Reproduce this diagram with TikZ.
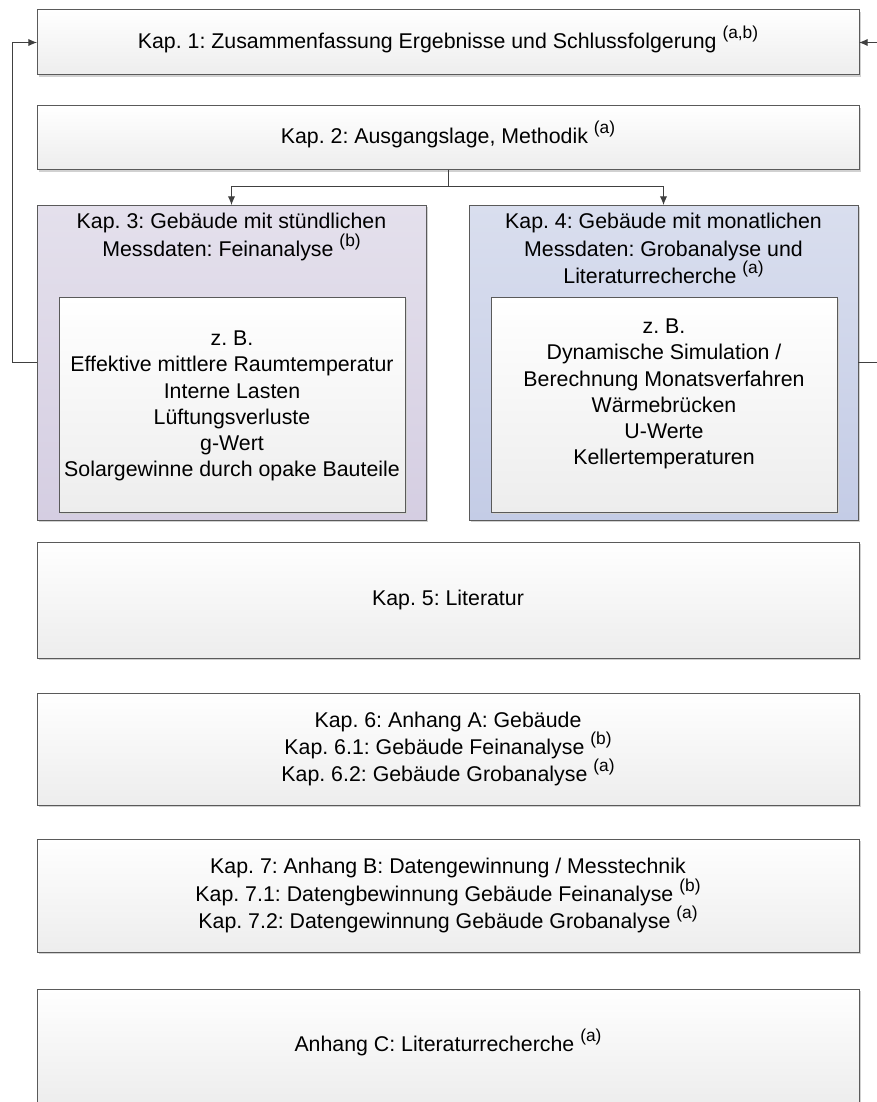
\documentclass[tikz,border=0pt]{standalone}
\usepackage{fontspec}
\setmainfont{Liberation Sans}
\frenchspacing
\usetikzlibrary{arrows.meta,shadows}
\definecolor{boxborder}{HTML}{5A5A5A}
\definecolor{boxbot}{HTML}{EDEDED}
\definecolor{purtop}{HTML}{E4E0EC}
\definecolor{purbot}{HTML}{D5CEE2}
\definecolor{blutop}{HTML}{D9DEEE}
\definecolor{blubot}{HTML}{C4CCE6}
\definecolor{linecol}{HTML}{404040}
\newcommand\supx[1]{\raisebox{7.5pt}[0pt][0pt]{\fontsize{13pt}{13pt}\selectfont(#1)}}
\tikzset{
  box/.style={draw=boxborder, line width=0.75pt, inner sep=0pt, outer sep=0pt,
    top color=white, bottom color=boxbot,
    drop shadow={shadow xshift=1.5pt, shadow yshift=-1.5pt, fill=black!18, opacity=1},
    align=center, font={\fontsize{16pt}{20.6pt}\selectfont}, text=black},
  purbox/.style={box, top color=purtop, bottom color=purbot},
  blubox/.style={box, top color=blutop, bottom color=blubot},
  lbl/.style={align=center, inner sep=0pt, font={\fontsize{16pt}{20.6pt}\selectfont}, text=black},
  ilbl/.style={align=center, inner sep=0pt, font={\fontsize{16pt}{19.6pt}\selectfont}, text=black},
  conn/.style={draw=linecol, line width=0.75pt},
  arr/.style={conn, -{Latex[length=6.5pt,width=5.5pt]}}
}
\begin{document}
\begin{tikzpicture}[x=0.75pt,y=-0.75pt]
\useasboundingbox (0,0) rectangle (876,1102);
% boxes
\node[box, minimum width=616.5pt, minimum height=48.75pt] (b1) at (448,42.5)
  {Kap. 1: Zusammenfassung Ergebnisse und Schlussfolgerung \supx{a,b}};
\node[box, minimum width=616.5pt, minimum height=48pt] (b2) at (448,138)
  {Kap. 2: Ausgangslage, Methodik \supx{a}};
\node[purbox, minimum width=291.75pt, minimum height=236.25pt] (b3) at (231.5,362.5) {};
\node[blubox, minimum width=291.75pt, minimum height=236.25pt] (b4) at (663.5,362.5) {};
\node[lbl, anchor=north] (t3) at (231.5,213)
  {Kap. 3: Gebäude mit stündlichen\\Messdaten: Feinanalyse \supx{b}};
\node[lbl, anchor=north] (t4) at (663.5,213)
  {Kap. 4: Gebäude mit monatlichen\\Messdaten: Grobanalyse und\\Literaturrecherche \supx{a}};
\node[box, minimum width=259.5pt, minimum height=161.25pt] (i3) at (232,404.5) {};
\node[box, minimum width=259.5pt, minimum height=161.25pt] (i4) at (664,404.5) {};
\node[ilbl] (it3) at (232,406)
  {z. B.\\Effektive mittlere Raumtemperatur\\Interne Lasten\\Lüftungsverluste\\g-Wert\\Solargewinne durch opake Bauteile};
\node[ilbl] (it4) at (664,394)
  {z. B.\\Dynamische Simulation /\\Berechnung Monatsverfahren\\Wärmebrücken\\U-Werte\\Kellertemperaturen};
\node[box, minimum width=616.5pt, minimum height=87pt] (b5) at (448,600)
  {Kap. 5: Literatur};
\node[box, minimum width=616.5pt, minimum height=84pt] (b6) at (448,749)
  {Kap. 6: Anhang A: Gebäude\\Kap. 6.1: Gebäude Feinanalyse \supx{b}\\Kap. 6.2: Gebäude Grobanalyse \supx{a}};
\node[box, minimum width=616.5pt, minimum height=84.75pt] (b7) at (448,895.5)
  {Kap. 7: Anhang B: Datengewinnung / Messtechnik\\Kap. 7.1: Datengbewinnung Gebäude Feinanalyse \supx{b}\\Kap. 7.2: Datengewinnung Gebäude Grobanalyse \supx{a}};
\node[box, minimum width=616.5pt, minimum height=85.5pt] (b8) at (448,1046)
  {Anhang C: Literaturrecherche \supx{a}};
% connectors
\coordinate (J) at (448,186);
\coordinate (L) at (12,362.5);
\coordinate (R) at (885,362.5);
\draw[conn] (b2.south) -- (J);
\draw[arr] (J) -| (b3.north);
\draw[arr] (J) -| (b4.north);
\draw[arr] (b3.west) -- (L) |- (b1.west);
\draw[arr] (b4.east) -- (R) |- (b1.east);
\end{tikzpicture}
\end{document}
